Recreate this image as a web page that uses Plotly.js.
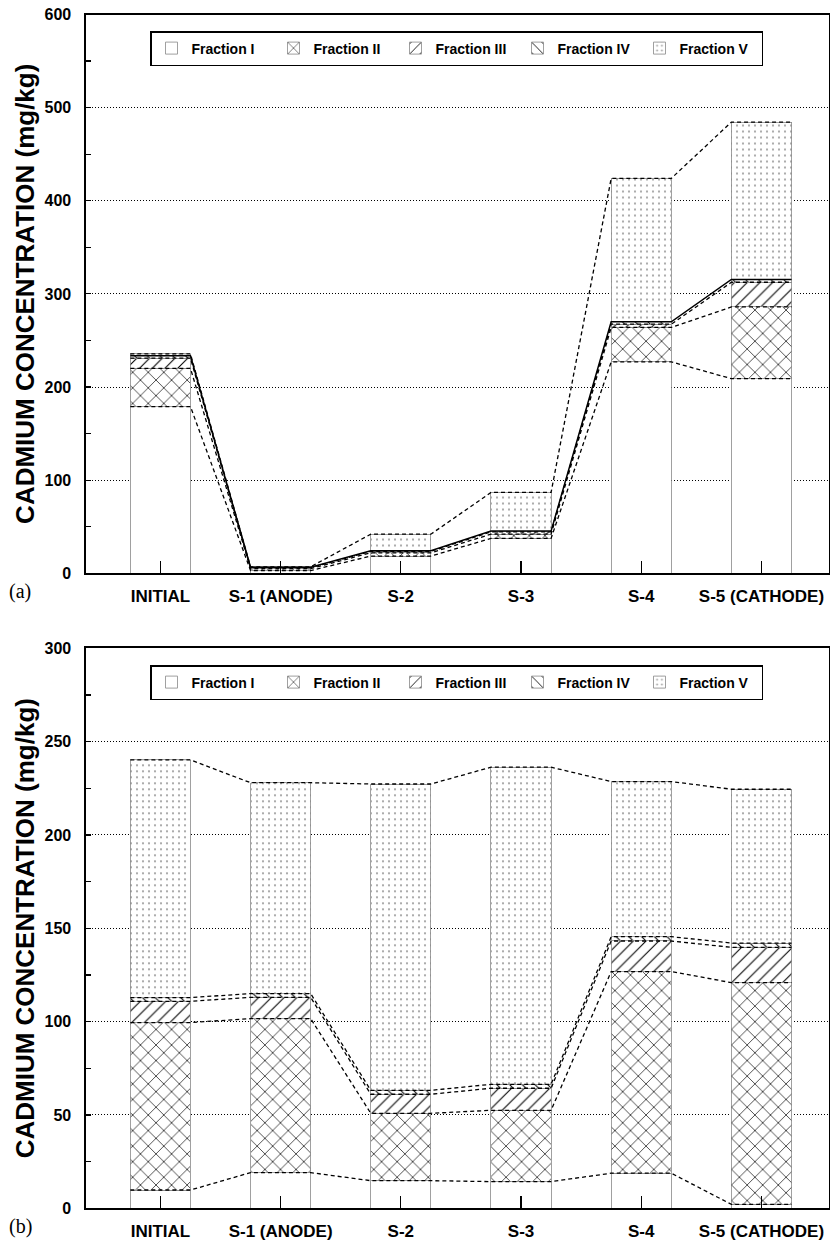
<!DOCTYPE html>
<html>
<head>
<meta charset="utf-8">
<script src="https://cdn.plot.ly/plotly-3.0.1.min.js"></script>
<style>
  html, body { margin: 0; padding: 0; background: #fff; }
  #chart { width: 830px; height: 1243px; }
</style>
</head>
<body>
<div id="chart"></div>
<script>
// ---------- DATA ----------
const categories = ['INITIAL', 'S-1 (ANODE)', 'S-2', 'S-3', 'S-4', 'S-5 (CATHODE)'];
const fractionNames = ['Fraction I', 'Fraction II', 'Fraction III', 'Fraction IV', 'Fraction V'];

// Panel (a) values, mg/kg
const a_fraction1 = [179, 3, 18.5, 37.5, 227, 209];
const a_fraction2 = [41, 2, 3.5, 4.5, 37, 77];
const a_fraction3 = [11, 1, 1.5, 2.5, 3.5, 26.5];
const a_fraction4 = [2.5, 0.5, 0.7, 0.8, 2.5, 3];
const a_fraction5 = [2, 0.5, 17.8, 41.5, 154, 169];

// Panel (b) values, mg/kg
const b_fraction1 = [9.8, 19.1, 14.8, 14.3, 18.8, 2.1];
const b_fraction2 = [89.7, 82.5, 36.1, 38.2, 108, 118.8];
const b_fraction3 = [11.4, 11.4, 10.2, 11.8, 16.4, 18.9];
const b_fraction4 = [2.0, 2.0, 2.1, 2.1, 2.3, 2.3];
const b_fraction5 = [127.3, 113, 164.1, 169.9, 83.1, 82.4];

// ---------- STYLE ----------
const FONT = 'Liberation Sans, Arial, Helvetica, sans-serif';
const BAR_W = 0.5;
const patterns = [
  { shape: '' },
  { shape: 'x', fgcolor: '#000', bgcolor: '#fff', size: 11, solidity: 0.12 },
  { shape: '/', fgcolor: '#000', bgcolor: '#fff', size: 9, solidity: 0.12 },
  { shape: '\\', fgcolor: '#000', bgcolor: '#fff', size: 9, solidity: 0.12 },
  { shape: '.', fgcolor: '#999', bgcolor: '#fff', size: 6, solidity: 0.1 }
];

function panel(fracs, xa, ya, legendName, solidLevel) {
  const xs = categories.map((c, i) => i);
  const traces = [];
  fracs.forEach((vals, k) => {
    traces.push({
      type: 'bar', x: xs, y: vals, width: BAR_W,
      name: fractionNames[k], xaxis: xa, yaxis: ya, legend: legendName,
      marker: { color: '#fff', line: { color: '#888', width: 0.8 }, pattern: patterns[k] },
      hoverinfo: 'skip'
    });
  });
  // cumulative level lines
  const cum = xs.map(() => 0);
  fracs.forEach((vals, k) => {
    const lx = [], ly = [];
    xs.forEach((x, i) => {
      cum[i] += vals[i];
      lx.push(x - BAR_W / 2, x + BAR_W / 2);
      ly.push(cum[i], cum[i]);
    });
    traces.push({
      type: 'scatter', mode: 'lines', x: lx, y: ly, xaxis: xa, yaxis: ya,
      showlegend: false, hoverinfo: 'skip',
      line: { color: '#000', width: k === solidLevel ? 1.5 : 1.3, dash: k === solidLevel ? 'solid' : '4px,3px' }
    });
  });
  return traces;
}

const data = [].concat(
  panel([a_fraction1, a_fraction2, a_fraction3, a_fraction4, a_fraction5], 'x', 'y', 'legend', 3),
  panel([b_fraction1, b_fraction2, b_fraction3, b_fraction4, b_fraction5], 'x2', 'y2', 'legend2', -1)
);

const W = 830, H = 1243;
const xDom = [86 / W, 829 / W];
const yDomA = [1 - 573.3 / H, 1 - 14.5 / H];
const yDomB = [1 - 1208.3 / H, 1 - 648.3 / H];
const xRange = [-0.619, 5.562];

function xAxis(anchor) {
  return {
    domain: xDom, range: xRange, anchor: anchor,
    tickmode: 'array', tickvals: categories.map((c, i) => i), ticktext: categories,
    ticks: 'inside', ticklen: 12, tickwidth: 1.2, tickcolor: '#000',
    showline: true, linecolor: '#000', linewidth: 2, mirror: true,
    showgrid: false, zeroline: false, fixedrange: true,
    ticklabelstandoff: 6,
    tickfont: { family: FONT, size: 17, color: '#000', weight: 'bold' }
  };
}
function yAxis(anchor, dom, max, dt) {
  return {
    domain: dom, range: [0, max], anchor: anchor,
    tick0: 0, dtick: dt, ticks: 'inside', ticklen: 5, tickwidth: 1.2, tickcolor: '#000',
    minor: { dtick: dt / 2, ticks: 'inside', ticklen: 5, tickwidth: 1.2, tickcolor: '#000', showgrid: false },
    showgrid: true, gridcolor: '#000', gridwidth: 1, griddash: '1px,2px',
    showline: true, linecolor: '#000', linewidth: 1.6, mirror: true,
    zeroline: false, fixedrange: true,
    ticklabelstandoff: 10,
    tickfont: { family: FONT, size: 16, color: '#000', weight: 'bold' }
  };
}
function legendAt(yTop) {
  return {
    orientation: 'h', x: 150 / W, xanchor: 'left', y: yTop, yanchor: 'top',
    bgcolor: '#fff', bordercolor: '#000', borderwidth: 1.5,
    entrywidth: 77, entrywidthmode: 'pixels', traceorder: 'normal',
    font: { family: FONT, size: 14, color: '#000', weight: 'bold' }
  };
}

const ytitle = 'CADMIUM CONCENTRATION (mg/kg)';
const layout = {
  width: W, height: H,
  margin: { l: 0, r: 0, t: 0, b: 0 },
  paper_bgcolor: '#fff', plot_bgcolor: '#fff',
  barmode: 'stack', bargap: 0,
  showlegend: true,
  hovermode: false,
  xaxis: xAxis('y'),
  yaxis: yAxis('x', yDomA, 600, 100),
  xaxis2: xAxis('y2'),
  yaxis2: yAxis('x2', yDomB, 300, 50),
  legend: legendAt(1 - 31 / H),
  legend2: legendAt(1 - 665 / H),
  annotations: [
    { text: ytitle, xref: 'paper', yref: 'paper', x: 25 / W, y: (yDomA[0] + yDomA[1]) / 2,
      xanchor: 'center', yanchor: 'middle', textangle: -90, showarrow: false,
      font: { family: FONT, size: 26, color: '#000', weight: 'bold' } },
    { text: ytitle, xref: 'paper', yref: 'paper', x: 25 / W, y: (yDomB[0] + yDomB[1]) / 2,
      xanchor: 'center', yanchor: 'middle', textangle: -90, showarrow: false,
      font: { family: FONT, size: 26, color: '#000', weight: 'bold' } },
    { text: '(a)', xref: 'paper', yref: 'paper', x: 20 / W, y: 1 - 591 / H,
      xanchor: 'center', yanchor: 'middle', showarrow: false,
      font: { family: 'Liberation Serif, Times New Roman, serif', size: 20, color: '#000' } },
    { text: '(b)', xref: 'paper', yref: 'paper', x: 20 / W, y: 1 - 1226 / H,
      xanchor: 'center', yanchor: 'middle', showarrow: false,
      font: { family: 'Liberation Serif, Times New Roman, serif', size: 20, color: '#000' } }
  ]
};

Plotly.newPlot('chart', data, layout, { displayModeBar: false, staticPlot: true });
</script>
</body>
</html>
